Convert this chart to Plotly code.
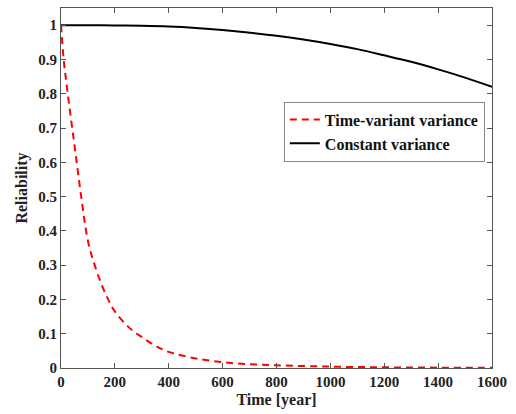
import plotly.graph_objects as go

# Constant variance
t_const = [0, 100, 200, 300, 400, 500, 600, 700, 800, 900, 1000, 1100, 1200, 1300, 1400, 1500, 1600]
r_const = [1.0, 1.0, 0.999, 0.998, 0.996, 0.992, 0.986, 0.978, 0.969, 0.958, 0.945, 0.93, 0.912, 0.893, 0.871, 0.847, 0.82]

# Time-variant variance
t_var = [0, 10, 25, 50, 75, 100, 125, 150, 175, 200, 250, 300, 350, 400, 500, 600, 700, 800, 1000, 1200, 1400, 1600]
r_var = [1.0, 0.90, 0.80, 0.65, 0.50, 0.37, 0.30, 0.245, 0.20, 0.165, 0.12, 0.09, 0.065, 0.047, 0.028, 0.017, 0.011, 0.008, 0.004, 0.002, 0.001, 0.0005]

x_ticks = [0, 200, 400, 600, 800, 1000, 1200, 1400, 1600]
y_ticks = [0, 0.1, 0.2, 0.3, 0.4, 0.5, 0.6, 0.7, 0.8, 0.9, 1]
y_labels = ["0", "0.1", "0.2", "0.3", "0.4", "0.5", "0.6", "0.7", "0.8", "0.9", "1"]

font = "Liberation Serif"
fig = go.Figure()
fig.add_trace(go.Scatter(x=t_var, y=r_var, mode="lines", name="<b>Time-variant variance</b>",
                         line=dict(color="#ff0000", width=2, dash="7px,5px", shape="spline")))
fig.add_trace(go.Scatter(x=t_const, y=r_const, mode="lines", name="<b>Constant variance</b>",
                         line=dict(color="#000000", width=2, shape="spline")))

axis_common = dict(showgrid=False, zeroline=False, showline=True, linecolor="#555555", linewidth=1,
                   mirror="ticks", ticks="inside", ticklen=5, tickcolor="#555555",
                   tickfont=dict(family=font, size=15, color="#222222"))

fig.update_layout(
    width=516, height=414,
    margin=dict(l=61, r=24, t=8, b=46),
    paper_bgcolor="white", plot_bgcolor="white",
    xaxis=dict(range=[0, 1600], tickvals=x_ticks, ticktext=[f"<b>{v}</b>" for v in x_ticks],
               title=dict(text="<b>Time [year]</b>", font=dict(family=font, size=16, color="#222222"), standoff=4),
               **axis_common),
    yaxis=dict(range=[0, 1.05], tickvals=y_ticks, ticktext=[f"<b>{v}</b>" for v in y_labels],
               title=dict(text="<b>Reliability</b>", font=dict(family=font, size=16, color="#222222"), standoff=6),
               **axis_common),
    legend=dict(x=0.517, y=0.74, xanchor="left", yanchor="top",
                bordercolor="#888888", borderwidth=1, bgcolor="white",
                font=dict(family=font, size=16, color="#111111"),
                itemwidth=30, tracegroupgap=0),
    showlegend=True,
)

fig.write_html("out.html")
